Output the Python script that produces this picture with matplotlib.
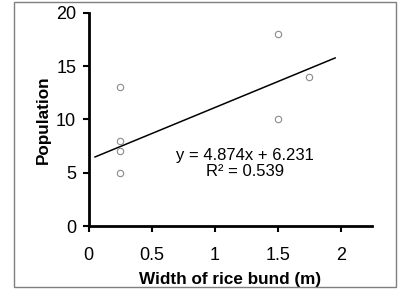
import matplotlib
matplotlib.use('Agg')
import matplotlib.pyplot as plt
import numpy as np
from matplotlib.patches import Rectangle

# data
bund_width = [0.25, 0.25, 0.25, 0.25, 1.5, 1.5, 1.75]
population = [13, 8, 7, 5, 18, 10, 14]
slope = 4.874
intercept = 6.231
r_squared = 0.539
fit_range = [0.05, 1.955]
x_ticks = [0, 0.5, 1, 1.5, 2]
x_tick_labels = ['0', '0.5', '1', '1.5', '2']
y_ticks = [0, 5, 10, 15, 20]

plt.rcParams['font.family'] = ['Liberation Sans', 'DejaVu Sans']

fig = plt.figure(figsize=(4.0, 3.03), dpi=100)
ax = fig.add_axes([0.2218, 0.2541, 0.709, 0.7039])

# outer frame
fig.patches.append(Rectangle((0.035, 0.0528), 0.955, 0.9406, transform=fig.transFigure,
                             fill=False, edgecolor='#7f7f7f', linewidth=1.0))

ax.plot(bund_width, population, linestyle='none', marker='o', markersize=4.6,
        markerfacecolor='white', markeredgecolor='#8a8a8a', markeredgewidth=0.8, zorder=3)

fx = np.array(fit_range)
ax.plot(fx, slope * fx + intercept, color='black', linewidth=1.1, zorder=2)

ax.text(1.24, 6.65, 'y = %.3fx + %.3f' % (slope, intercept), ha='center', va='center', fontsize=12)
ax.text(1.24, 5.08, 'R\u00b2 = %.3f' % r_squared, ha='center', va='center', fontsize=12)

ax.set_xlim(0, 2.25)
ax.set_ylim(0, 20)
ax.set_xticks(x_ticks)
ax.set_xticklabels(x_tick_labels)
ax.set_yticks(y_ticks)

for s in ['top', 'right']:
    ax.spines[s].set_visible(False)
for s in ['left', 'bottom']:
    ax.spines[s].set_linewidth(2.0)
ax.tick_params(direction='out', length=4, width=1.5, labelsize=13)
ax.tick_params(axis='x', pad=11)
ax.tick_params(axis='y', pad=5)

ax.set_xlabel('Width of rice bund (m)', fontsize=12.3, fontweight='bold', labelpad=6)
ax.set_ylabel('Population', fontsize=12.3, fontweight='bold', labelpad=4)

fig.savefig('out.png', dpi=100)
